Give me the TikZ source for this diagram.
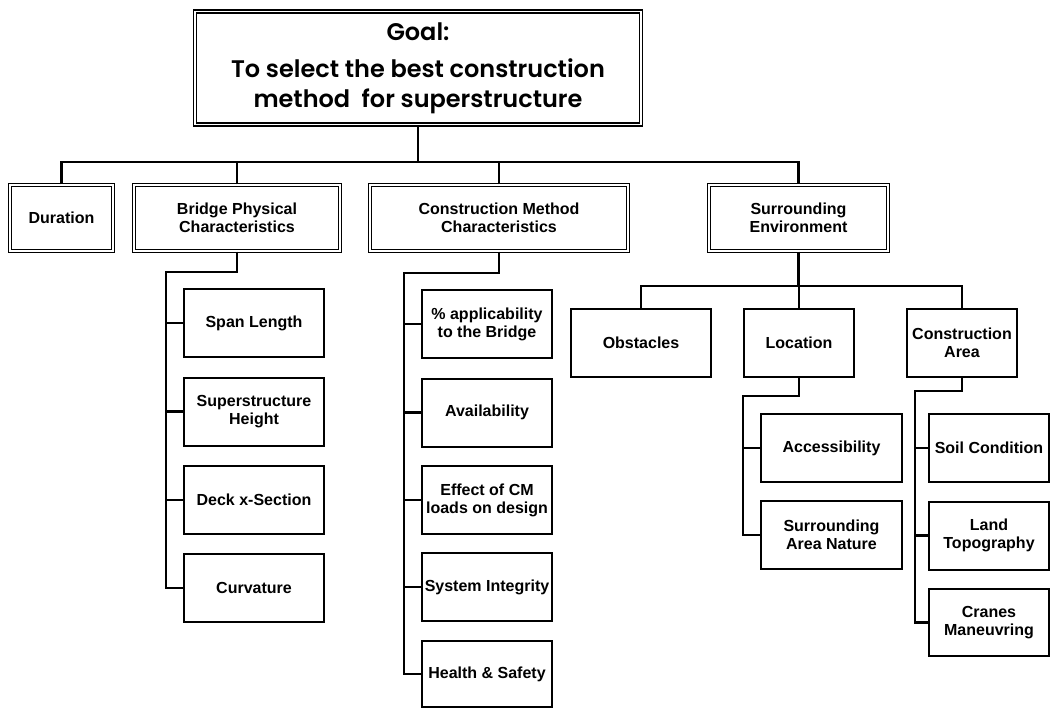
\documentclass[tikz,border=0pt]{standalone}
\usepackage{fontspec}
\setmainfont{Liberation Sans}
\newfontfamily\goalfont{Poppins}[UprightFont=* SemiBold]
\usepackage{tikz}

\begin{document}
\begin{tikzpicture}[x=1pt,y=-1pt,
	goalbox/.style={draw, double, line width=1.4pt, double distance=1.6pt, minimum width=446pt, minimum height=113pt, align=center, font=\goalfont\fontsize{24}{30}\selectfont},
	headbox/.style={draw, double, line width=1.3pt, double distance=1.6pt, minimum height=66pt, inner sep=0pt, align=center, font=\bfseries\fontsize{16}{18}\selectfont},
	leafbox/.style={draw, line width=2pt, minimum height=68pt, inner sep=0pt, align=center, font=\bfseries\fontsize{16}{18}\selectfont},
	link/.style={line width=2.2pt}]
	\useasboundingbox (0,0) rectangle (1052,712);

	% top level
	\node[goalbox] (goal) at (418,68) {Goal:\\[7pt] To select the best construction\\ method\ \ for superstructure};
	\node[headbox, minimum width=103pt] (duration) at (61.5,218) {Duration};
	\node[headbox, minimum width=206pt] (bridge) at (237,218) {Bridge Physical\\Characteristics};
	\node[headbox, minimum width=258pt] (method) at (499,218) {Construction Method\\Characteristics};
	\node[headbox, minimum width=179pt] (surround) at (798.5,218) {Surrounding\\Environment};
	\coordinate (bus) at (0,162);
	\draw[link] (goal.south) -- (goal.south |- bus);
	\draw[link] (duration.north) |- (surround.north |- bus) -- (surround.north);
	\draw[link] (bridge.north) -- (bridge.north |- bus);
	\draw[link] (method.north) -- (method.north |- bus);

	% bridge physical characteristics
	\node[leafbox, minimum width=140pt] (span) at (254,323) {Span Length};
	\node[leafbox, minimum width=140pt] (height) at (254,411.5) {Superstructure\\Height};
	\node[leafbox, minimum width=140pt] (deck) at (254,500) {Deck x-Section};
	\node[leafbox, minimum width=140pt] (curv) at (254,588) {Curvature};
	\coordinate (bspine) at (166,272);
	\draw[link] (bridge.south) |- (bspine) |- (curv.west);
	\draw[link] (span.west) -- (span.west -| bspine);
	\draw[link] (height.west) -- (height.west -| bspine);
	\draw[link] (deck.west) -- (deck.west -| bspine);

	% construction method characteristics
	\node[leafbox, minimum width=130pt] (applic) at (487,324) {\% applicability\\to the Bridge};
	\node[leafbox, minimum width=130pt] (avail) at (487,412.5) {Availability};
	\node[leafbox, minimum width=130pt] (loads) at (487,500) {Effect of CM\\loads on design};
	\node[leafbox, minimum width=130pt] (integ) at (487,587) {System Integrity};
	\node[leafbox, minimum width=130pt, minimum height=66pt] (safety) at (487,674) {Health \& Safety};
	\coordinate (mspine) at (404,273);
	\draw[link] (method.south) |- (mspine) |- (safety.west);
	\draw[link] (applic.west) -- (applic.west -| mspine);
	\draw[link] (avail.west) -- (avail.west -| mspine);
	\draw[link] (loads.west) -- (loads.west -| mspine);
	\draw[link] (integ.west) -- (integ.west -| mspine);

	% surrounding environment
	\node[leafbox, minimum width=140pt] (obst) at (641,342.5) {Obstacles};
	\node[leafbox, minimum width=110pt] (location) at (799,342.5) {Location};
	\node[leafbox, minimum width=110pt] (area) at (962,342.5) {Construction\\Area};
	\coordinate (sbus) at (0,286);
	\draw[link] (surround.south) -- (surround.south |- sbus);
	\draw[link] (obst.north) |- (area.north |- sbus) -- (area.north);
	\draw[link] (location.north) -- (location.north |- sbus);

	\node[leafbox, minimum width=141pt] (access) at (831.5,448) {Accessibility};
	\node[leafbox, minimum width=141pt] (nature) at (831.5,535) {Surrounding\\Area Nature};
	\coordinate (lspine) at (743,396);
	\draw[link] (location.south) |- (lspine) |- (nature.west);
	\draw[link] (access.west) -- (access.west -| lspine);

	\node[leafbox, minimum width=120pt] (soil) at (989,448) {Soil Condition};
	\node[leafbox, minimum width=120pt] (land) at (989,535.5) {Land\\Topography};
	\node[leafbox, minimum width=120pt, minimum height=67pt] (cranes) at (989,622.5) {Cranes\\Maneuvring};
	\coordinate (aspine) at (915,391);
	\draw[link] (area.south) |- (aspine) |- (cranes.west);
	\draw[link] (soil.west) -- (soil.west -| aspine);
	\draw[link] (land.west) -- (land.west -| aspine);
\end{tikzpicture}
\end{document}
